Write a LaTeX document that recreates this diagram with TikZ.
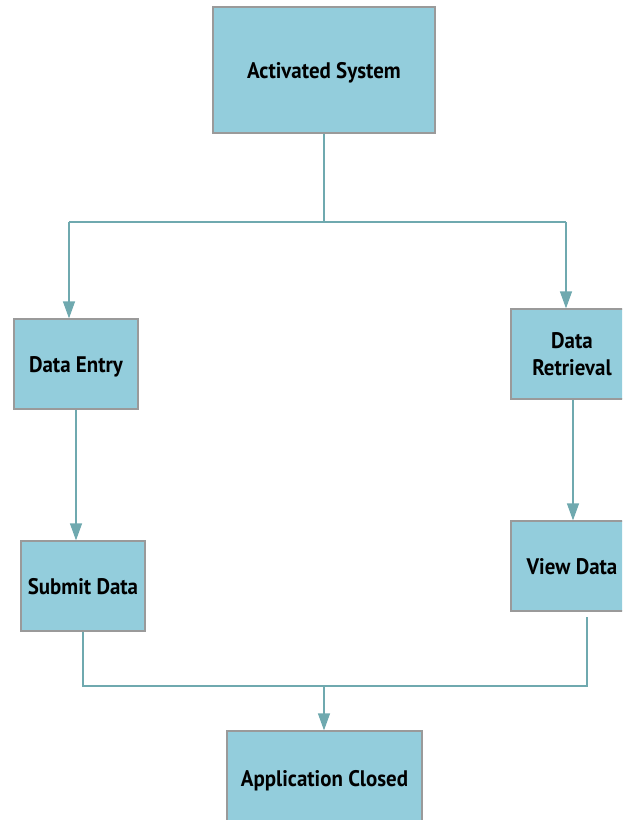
\documentclass[tikz,border=0pt]{standalone}
\usepackage{fontspec}
\setmainfont{PT Sans}[FakeStretch=0.93]
\usetikzlibrary{arrows.meta,calc}
\definecolor{boxfill}{HTML}{93CDDC}
\definecolor{boxline}{HTML}{9A9A9A}
\definecolor{conn}{HTML}{6FA9AF}
\tikzset{
  box/.style={draw=boxline, line width=1.2pt, fill=boxfill, inner sep=0pt,
    font=\fontsize{22.5}{27}\selectfont\bfseries, align=center},
  oneline/.style={text height=20pt, text depth=4pt},
  link/.style={draw=conn, line width=1.2pt},
  arr/.style={link, -{Triangle[width=12pt,length=17pt]}},
}
\begin{document}
\begin{tikzpicture}[x=1pt,y=-1pt]
\useasboundingbox (0,0) rectangle (622,820);
\clip (0,0) rectangle (622,820);
\node[box, oneline, minimum width=222pt, minimum height=126pt] (act) at (324,70) {Activated System};
\node[box, oneline, minimum width=124pt, minimum height=90pt] (de) at (76,364) {Data Entry};
\node[box, oneline, minimum width=124pt, minimum height=90pt] (sd) at (83,586) {Submit Data};
\node[box, minimum width=122pt, minimum height=90pt] (dr) at (572,354) {Data\\Retrieval};
\node[box, oneline, minimum width=122pt, minimum height=90pt] (vd) at (572,566) {View Data};
\node[box, oneline, minimum width=195pt, minimum height=94pt] (ac) at (324.5,778) {Application Closed};
\coordinate (jL) at (69,222);
\coordinate (jR) at (566,222);
\coordinate (kL) at (83,686);
\coordinate (kR) at (587,686);
\coordinate (kM) at (324,686);
\draw[link] (act.south) -- (act.south |- jL);
\draw[link] (jL) -- (jR);
\draw[arr] (jL) -- (jL |- de.north);
\draw[arr] (jR) -- (jR |- dr.north);
\draw[arr] (de.south -| 76,0) -- (sd.north -| 76,0);
\draw[arr] (dr.south -| 573,0) -- (vd.north -| 573,0);
\draw[link] (sd.south) -- (kL) -- (kR) -- ($(vd.south -| kR)+(0,5)$);
\draw[arr] (kM) -- (kM |- ac.north);
\end{tikzpicture}
\end{document}
